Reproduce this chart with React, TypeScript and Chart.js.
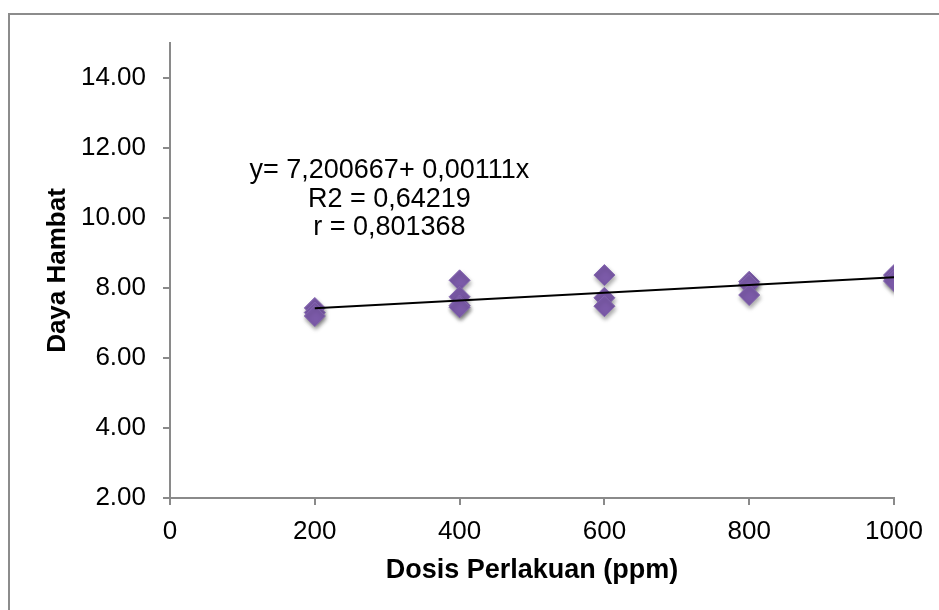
import React, { useEffect, useRef } from "react";
import { Chart, registerables } from "chart.js";

Chart.register(...registerables);

// Data
const doses = [200, 200, 200, 400, 400, 400, 400, 600, 600, 600, 800, 800, 800, 1000, 1000, 1000];
const dayaHambat = [7.43, 7.3, 7.2, 8.22, 7.75, 7.5, 7.45, 8.37, 7.72, 7.48, 8.18, 8.1, 7.8, 8.37, 8.28, 8.2];
const trendX = [200, 1000];
const trendY = [7.42, 8.31];
const equationLines = ["y= 7,200667+ 0,00111x", "R2 = 0,64219", "r = 0,801368"];
const xTitle = "Dosis Perlakuan (ppm)";
const yTitle = "Daya Hambat";

const FONT = 'Arial, "Liberation Sans", sans-serif';
const AXIS_COLOR = "#8a8a8a";

const frameAndText = {
  id: "frameAndText",
  beforeDraw(chart: any) {
    const ctx = chart.ctx;
    ctx.save();
    ctx.strokeStyle = "#8c8c8c";
    ctx.lineWidth = 2;
    ctx.strokeRect(9, 14, 2000, 2000);
    ctx.restore();
  },
  beforeDatasetDraw(chart: any, args: any) {
    if (args.index === 1) {
      const ctx = chart.ctx;
      ctx.save();
      ctx.shadowColor = "rgba(0,0,0,0.35)";
      ctx.shadowBlur = 4;
      ctx.shadowOffsetX = 1;
      ctx.shadowOffsetY = 3;
    }
  },
  afterDatasetDraw(chart: any, args: any) {
    if (args.index === 1) chart.ctx.restore();
  },
  afterDraw(chart: any) {
    const ctx = chart.ctx;
    const xs = chart.scales.x;
    const ys = chart.scales.y;
    const cx = xs.getPixelForValue(303);
    const y0 = ys.getPixelForValue(11.14);
    ctx.save();
    ctx.fillStyle = "#000";
    ctx.font = `27px ${FONT}`;
    ctx.textAlign = "center";
    ctx.textBaseline = "alphabetic";
    equationLines.forEach((t, i) => ctx.fillText(t, cx, y0 + i * 28.5));
    ctx.restore();
  },
};

export default function App() {
  const ref = useRef<HTMLCanvasElement>(null);
  useEffect(() => {
    if (!ref.current) return;
    const chart = new Chart(ref.current, {
      type: "scatter",
      data: {
        datasets: [
          {
            type: "line",
            data: trendX.map((x, i) => ({ x, y: trendY[i] })),
            borderColor: "#000",
            borderWidth: 2,
            pointRadius: 0,
            fill: false,
            order: 0,
          } as any,
          {
            data: doses.map((x, i) => ({ x, y: dayaHambat[i] })),
            pointStyle: "rectRot",
            pointRadius: 10.5,
            backgroundColor: "#7b5aa8",
            borderColor: "#8466b0",
            borderWidth: 1,
            order: 1,
          },
        ],
      },
      plugins: [frameAndText],
      options: {
        animation: false,
        responsive: false,
        maintainAspectRatio: false,
        layout: { padding: { left: 0, top: 43, right: 45, bottom: 0 } },
        plugins: { legend: { display: false }, tooltip: { enabled: false } },
        scales: {
          x: {
            type: "linear",
            min: 0,
            max: 1000,
            afterFit: (s: any) => {
              s.height = 112;
            },
            ticks: {
              stepSize: 200,
              color: "#000",
              font: { family: FONT, size: 26 },
              padding: 11,
              callback: (v: any) => String(v),
            },
            grid: { drawOnChartArea: false, drawTicks: true, tickLength: 7, color: AXIS_COLOR, lineWidth: 2 },
            border: { display: true, color: AXIS_COLOR, width: 2 },
            title: {
              display: true,
              text: xTitle,
              color: "#000",
              font: { family: FONT, size: 27, weight: "bold" },
              padding: { top: 0, bottom: 23 },
            },
          },
          y: {
            type: "linear",
            min: 2,
            max: 15,
            afterFit: (s: any) => {
              s.width = 170;
            },
            ticks: {
              stepSize: 2,
              includeBounds: false,
              color: "#000",
              font: { family: FONT, size: 26 },
              padding: 17,
              callback: (v: any) => Number(v).toFixed(2),
            },
            grid: { drawOnChartArea: false, drawTicks: true, tickLength: 7, color: AXIS_COLOR, lineWidth: 2 },
            border: { display: true, color: AXIS_COLOR, width: 2 },
            title: {
              display: true,
              text: yTitle,
              color: "#000",
              font: { family: FONT, size: 26, weight: "bold" },
              padding: { top: 42, bottom: 0 },
            },
          },
        },
      },
    });
    return () => chart.destroy();
  }, []);
  return (
    <div style={{ position: "fixed", left: 0, top: 0, width: 939, height: 610, background: "#fff" }}>
      <canvas ref={ref} width={939} height={610} style={{ display: "block" }} />
    </div>
  );
}
